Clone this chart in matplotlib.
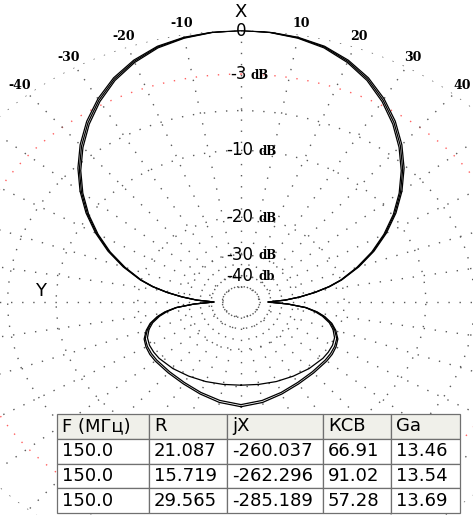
import numpy as np
import matplotlib
matplotlib.use('Agg')
import matplotlib.pyplot as plt

plt.rcParams['font.family'] = ['DejaVu Sans']

# diagram, dB vs angle from X axis (deg), symmetric about X
angles = [0, 5, 10, 15, 20, 25, 30, 35, 40, 45, 50, 55, 60, 65, 70, 75, 78, 81, 84, 87,
          90, 93, 96, 99, 102, 106, 110, 115, 120, 125, 130, 140, 150, 160, 170, 180]
curve_1 = [0.0, -0.05, -0.2, -0.48, -1.0, -1.7, -2.62, -3.7, -4.95, -6.35, -7.95, -9.75,
           -11.8, -14.1, -16.8, -19.9, -22.3, -25.5, -29.5, -34.5,
           -43.0, -33.5, -27.8, -25.0, -23.2, -21.5, -20.4, -19.4, -18.95, -18.7, -18.6,
           -18.45, -18.1, -17.5, -16.8, -16.35]
curve_2 = [0.0, -0.06, -0.23, -0.54, -1.08, -1.8, -2.74, -3.84, -5.1, -6.5, -8.1, -9.9,
           -11.95, -14.25, -16.95, -20.0, -22.4, -25.6, -29.6, -34.5,
           -43.0, -33.5, -27.9, -25.2, -23.4, -21.7, -20.6, -19.6, -19.2, -19.0, -18.9,
           -18.75, -18.4, -17.8, -17.15, -16.7]
curve_3 = [0.0, -0.04, -0.17, -0.43, -0.92, -1.6, -2.5, -3.56, -4.8, -6.2, -7.8, -9.6,
           -11.65, -13.95, -16.65, -19.8, -22.2, -25.4, -29.4, -34.5,
           -43.0, -33.6, -28.0, -25.5, -23.7, -22.0, -20.9, -20.0, -19.6, -19.45, -19.4,
           -19.55, -19.8, -20.0, -20.2, -20.3]

ring_levels = [0, -6, -10, -20, -30, -40, -50]
red_level = -3
db_labels = ['-3', '-10', '-20', '-30', '-40']
db_units = ['dB', 'dB', 'dB', 'dB', 'db']
angle_labels = [-40, -30, -20, -10, 10, 20, 30, 40]

# table
tbl_header = ['F (МГц)', 'R', 'jX', 'КСВ', 'Ga']
tbl_freq = ['150.0', '150.0', '150.0']
tbl_r = ['21.087', '15.719', '29.565']
tbl_jx = ['-260.037', '-262.296', '-285.189']
tbl_swr = ['66.91', '91.02', '57.28']
tbl_ga = ['13.46', '13.54', '13.69']


def fwd(db):
    # ARRL log scale: 0.89 per 2 dB
    return np.power(0.89, -np.asarray(db, dtype=float) / 2.0)


def inv(r):
    with np.errstate(divide='ignore', invalid='ignore'):
        return -2.0 * np.log(np.asarray(r, dtype=float)) / np.log(0.89)


W, H = 473, 515
cx, cy, a, b = 241, 302, 331, 271.5

fig = plt.figure(figsize=(W / 100, H / 100), dpi=100)
ax = fig.add_axes([(cx - a) / W, (H - cy - b) / H, 2 * a / W, 2 * b / H], projection='polar')
ax.set_aspect('auto')
ax.set_theta_zero_location('N')
ax.set_theta_direction(-1)
ax.set_rscale('function', functions=(fwd, inv))
ax.grid(False)
ax.spines['polar'].set_visible(False)
ax.patch.set_visible(False)

grid_kw = dict(lw=1.0, ls=(0, (1, 7)), zorder=1)
full_t = np.deg2rad(np.arange(0, 361, 1))
for lvl in ring_levels:
    ax.plot(full_t, np.full(full_t.shape, lvl), color='#5a5a5a', **grid_kw)
ax.plot(full_t, np.full(full_t.shape, red_level), color='#ff6060', **grid_kw)
for t in range(0, 360, 10):
    ax.plot([np.deg2rad(t)] * 2, [ring_levels[-1], 0], color='#5a5a5a', **grid_kw)

ang = np.array(angles, dtype=float)
th = np.deg2rad(np.concatenate([-ang[::-1], ang[1:]]))
for c in (curve_1, curve_2, curve_3):
    c = np.array(c)
    ax.plot(th, np.concatenate([c[::-1], c[1:]]), color='black', lw=0.9, zorder=3)

# labels
for lab in angle_labels:
    ax.text(np.deg2rad(lab), 0.67, str(lab), ha='center', va='center',
            family='DejaVu Serif', weight='bold', fontsize=9)
ax.text(0, 0, '0', ha='center', va='center', fontsize=12, zorder=5)
ax.text(0, 1.13, 'X', ha='center', va='center', fontsize=13)
ax.text(np.deg2rad(-86.2), -8.6, 'Y', ha='center', va='center', fontsize=13)

for num, unit in zip(db_labels, db_units):
    lvl = float(num)
    off_n, off_u = (6, 9) if num == '-3' else (12, 17)
    ax.annotate(num, xy=(0, lvl), xytext=(off_n, 0), textcoords='offset pixels',
                ha='right', va='center', fontsize=12)
    ax.annotate(unit, xy=(0, lvl), xytext=(off_u, -1), textcoords='offset pixels',
                ha='left', va='center', family='DejaVu Serif', weight='bold',
                fontsize=8.5)

ax.set_xticks([])
ax.set_yticks([])
ax.set_autoscale_on(False)
ax.set_rlim(-200, 0)

# table at the bottom
tx0, tx1, ty0, ty1 = 57, 460, 414, 513
tax = fig.add_axes([tx0 / W, (H - ty1) / H, (tx1 - tx0) / W, (ty1 - ty0) / H])
tax.axis('off')
col_px = [92, 78, 96, 68, 69]
rows = [list(r) for r in zip(tbl_freq, tbl_r, tbl_jx, tbl_swr, tbl_ga)]
tbl = tax.table(cellText=rows, colLabels=tbl_header, cellLoc='left', colLoc='left',
                colWidths=[w / sum(col_px) for w in col_px], bbox=[0, 0, 1, 1])
tbl.auto_set_font_size(False)
tbl.set_fontsize(13)
for (r, c), cell in tbl.get_celld().items():
    cell.set_edgecolor('#707070')
    cell.set_linewidth(0.9)
    cell.PAD = 5 / col_px[c]
    if r == 0:
        cell.set_facecolor('#f0f0ea')

fig.savefig('out.png', dpi=100)
